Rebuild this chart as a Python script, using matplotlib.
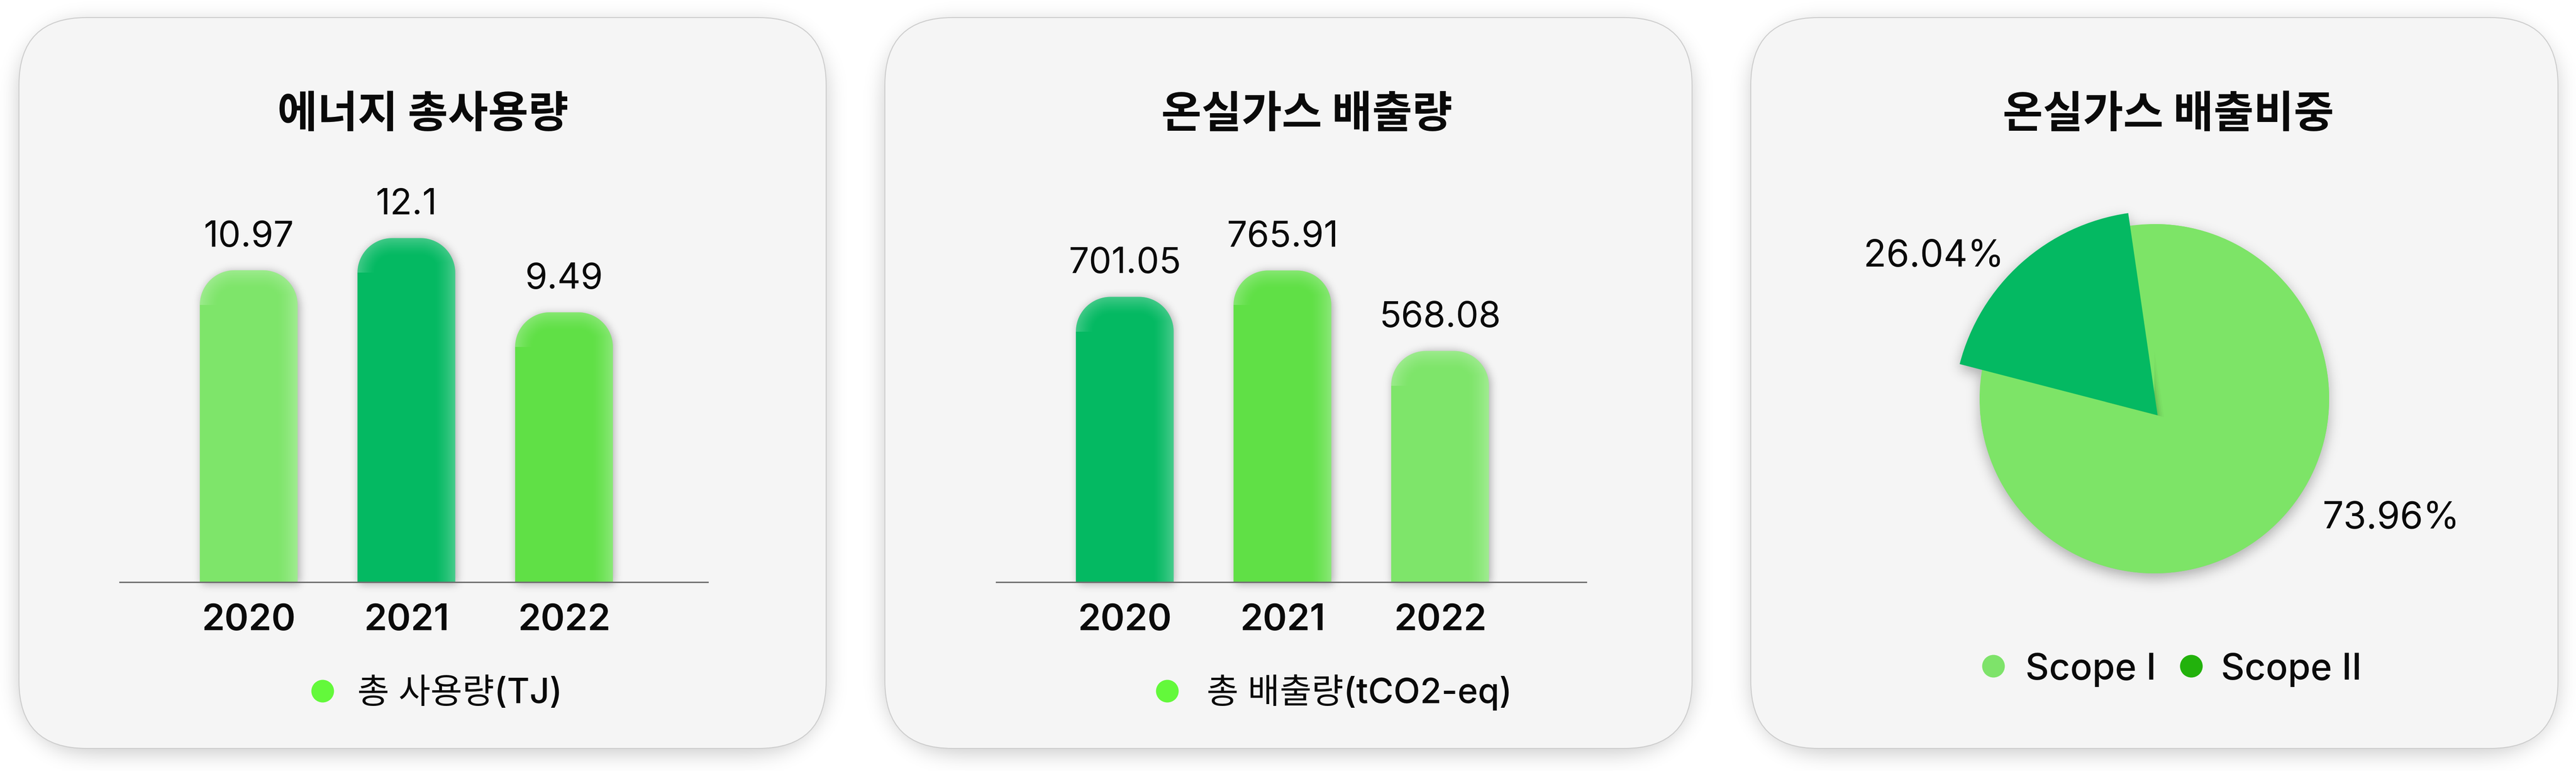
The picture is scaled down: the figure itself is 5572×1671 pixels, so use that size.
import numpy as np
import matplotlib
matplotlib.use('Agg')
import matplotlib.pyplot as plt
from matplotlib.patches import FancyBboxPatch, PathPatch, Circle
from matplotlib.path import Path
import matplotlib.transforms as mtrans

W, H, DPI = 5572, 1671, 100

# ---------------- data ----------------
energy_title = '에너지 총사용량'
energy_years = ['2020', '2021', '2022']
energy_values = [10.97, 12.1, 9.49]
energy_legend = '총 사용량(TJ)'

ghg_title = '온실가스 배출량'
ghg_years = ['2020', '2021', '2022']
ghg_values = [701.05, 765.91, 568.08]
ghg_legend = '총 배출량(tCO2-eq)'

share_title = '온실가스 배출비중'
scope_labels = ['Scope I', 'Scope II']
scope_values = [73.96, 26.04]

# ---------------- style ----------------
LIGHT, MID, DARK = '#7EE56A', '#60E046', '#04B962'
energy_colors = [LIGHT, DARK, MID]
ghg_colors = [DARK, MID, LIGHT]
pie_colors = ['#7DE467', '#04B962']
pie_legend_colors = ['#7EE36A', '#22B20C']
legend_dot = '#63F93B'
TXT = '#0A0A0A'

plt.rcParams['font.family'] = ['Inter', 'Noto Sans CJK KR', 'DejaVu Sans']

fig = plt.figure(figsize=(W / DPI, H / DPI), dpi=DPI)
fig.patch.set_facecolor('white')
bg = fig.add_axes([0, 0, 1, 1])
bg.set_autoscale_on(False)
bg.set_xlim(0, W)
bg.set_ylim(H, 0)
bg.axis('off')


def px_axes(x0, y0, x1, y1):
    return fig.add_axes([x0 / W, 1 - y1 / H, (x1 - x0) / W, (y1 - y0) / H])


def to_px(ax, pts):
    d = ax.transData.transform(pts)
    return np.column_stack([d[:, 0], H - d[:, 1]])


def rounded_rect_path(x0, y0, x1, y1, r, n=30):
    v = []
    for cx, cy, a0 in [(x1 - r, y1 - r, 0), (x0 + r, y1 - r, 90), (x0 + r, y0 + r, 180), (x1 - r, y0 + r, 270)]:
        t = np.radians(np.linspace(a0, a0 + 90, n))
        v += list(zip(cx + r * np.cos(t), cy + r * np.sin(t)))
    v.append(v[0])
    return Path(np.array(v), closed=True)


def rounded_top_path(x0, x1, ytop, ybase, r, n=30):
    r = min(r, (x1 - x0) / 2, ybase - ytop)
    v = [(x0, ybase), (x0, ytop + r)]
    t = np.linspace(np.pi, 1.5 * np.pi, n)
    v += list(zip(x0 + r + r * np.cos(t), ytop + r + r * np.sin(t)))
    t = np.linspace(1.5 * np.pi, 2 * np.pi, n)
    v += list(zip(x1 - r + r * np.cos(t), ytop + r + r * np.sin(t)))
    v += [(x1, ybase), (x0, ybase)]
    return Path(np.array(v), closed=True)


def gblur(img, sig):
    def K(n):
        i = np.arange(n)
        k = np.exp(-0.5 * ((i[:, None] - i[None, :]) / sig) ** 2)
        return k / (np.sqrt(2 * np.pi) * sig)
    return K(img.shape[0]) @ img @ K(img.shape[1])


S = 4
gx = (np.arange(W // S) + 0.5) * S
gy = (np.arange(H // S) + 0.5) * S
GX, GY = np.meshgrid(gx, gy)


def shadow_alpha(paths, dx, dy, sig, amax):
    pts = np.column_stack([GX.ravel() - dx, GY.ravel() - dy])
    m = np.zeros(GX.size)
    for p in paths:
        m = np.maximum(m, p.contains_points(pts).astype(float))
    m = m.reshape(GX.shape)
    return np.clip(gblur(m, sig / S), 0, 1) * amax


def show_shadow(alpha, z):
    arr = np.zeros(alpha.shape + (4,))
    arr[..., 3] = alpha
    bg.imshow(arr, extent=(0, (W // S) * S, (H // S) * S, 0), origin='upper',
              interpolation='bilinear', zorder=z, aspect='auto')


# ---------------- panels ----------------
PANELS = [(41, 38, 1787, 1620), (1914, 38, 3660, 1620), (3787, 38, 5533, 1620)]
PR = 146
panel_paths = [rounded_rect_path(*p, PR) for p in PANELS]
show_shadow(shadow_alpha(panel_paths, 0, 10, 22, 0.20), 1)
for (x0, y0, x1, y1) in PANELS:
    bg.add_patch(FancyBboxPatch((x0, y0), x1 - x0, y1 - y0,
                                boxstyle=f'round,pad=0,rounding_size={PR}',
                                facecolor='#F5F5F5', edgecolor='#CDCDCD', linewidth=1.5, zorder=2))

# ---------------- bar charts ----------------
BAR_R = 75
bar_shapes = []


def bar_panel(box, xlim, ymax, years, values, colors):
    ax = px_axes(*box)
    ax.set_autoscale_on(False)
    bars = ax.bar(range(len(values)), values, width=0.62, color=colors, alpha=0.0)
    ax.set_xlim(*xlim)
    ax.set_ylim(0, ymax)
    ax.patch.set_alpha(0)
    for s in ['top', 'left', 'right']:
        ax.spines[s].set_visible(False)
    ax.spines['bottom'].set_color('#6E6E6E')
    ax.spines['bottom'].set_linewidth(2.2)
    ax.set_xticks([])
    ax.set_yticks([])
    tr = mtrans.blended_transform_factory(ax.transData, bg.transData)
    for i, (rect, v, c, yr) in enumerate(zip(bars.patches, values, colors, years)):
        x0 = rect.get_x()
        p = to_px(ax, [(x0, 0), (x0 + rect.get_width(), rect.get_height())])
        bar_shapes.append((p[0, 0], p[1, 0], p[1, 1], p[0, 1], c))
        ax.annotate(f'{v}', xy=(i, v), xytext=(0, 37), textcoords='offset points',
                    ha='center', va='baseline', fontsize=56, fontweight='normal', color=TXT)
        ax.text(i, 1364, yr, transform=tr, ha='center', va='baseline',
                fontsize=57, fontweight='semibold', color=TXT)
    return ax


ax1 = bar_panel((259, 300, 1531, 1260), (-0.818, 2.912), 15.6, energy_years, energy_values, energy_colors)
ax2 = bar_panel((2155, 300, 3431, 1260), (-0.815, 2.927), 1090, ghg_years, ghg_values, ghg_colors)

bar_paths = [rounded_top_path(x0, x1, yt, yb, BAR_R) for (x0, x1, yt, yb, c) in bar_shapes]

# ---------------- pie ----------------
PC = (4660, 863)
PRAD = 378
half = 600
pax = px_axes(PC[0] - half, PC[1] - half, PC[0] + half, PC[1] + half)
wedges, _ = pax.pie(scope_values, colors=pie_colors, startangle=90, counterclock=False,
                    radius=1.0, wedgeprops=dict(linewidth=0))
lim = half / PRAD
pax.set_xlim(-lim, lim)
pax.set_ylim(-lim, lim)
pax.set_autoscale_on(False)
pax.add_patch(Circle((0, 0), 1.0, facecolor=pie_colors[0], linewidth=0, zorder=0.5))

# popped-out Scope II slice (perspective look of the reference)
POP_OFFSET = (0.0185, -0.095)
POP_SCALE = 1.17
POP_ROTATE = -5.0
POP_SQUEEZE = 0.717
w2 = wedges[1]
mid = 0.5 * (w2.theta1 + w2.theta2) + POP_ROTATE
hs = 0.5 * (w2.theta2 - w2.theta1) * POP_SQUEEZE
w2.set_theta1(mid - hs)
w2.set_theta2(mid + hs)
w2.set_center(POP_OFFSET)
w2.set_radius(POP_SCALE)
w2.set_zorder(3)
for k, a in [(3, 0.05), (6, 0.04), (10, 0.03), (14, 0.02)]:
    sh = matplotlib.patches.Wedge((POP_OFFSET[0] + k / PRAD, POP_OFFSET[1] - k / PRAD * 0.3),
                                  POP_SCALE, mid - hs, mid + hs, facecolor='black',
                                  alpha=a, linewidth=0, zorder=2)
    sh.set_clip_path(wedges[0])
    pax.add_patch(sh)

# pie labels
pct_pos = [(1.354, -0.743), (-1.262, 0.757)]
for v, (x, y) in zip(scope_values, pct_pos):
    pax.text(x, y, f'{v:.2f}%', ha='center', va='baseline', fontsize=58,
             fontweight='normal', color=TXT)

# pie shapes for shadow
cpx = to_px(pax, [(0, 0), (1, 0)])
cx, cy = cpx[0]
rr = cpx[1, 0] - cx
t = np.linspace(0, 2 * np.pi, 200)
circ = Path(np.column_stack([cx + rr * np.cos(t), cy - rr * np.sin(t)]), closed=False)
tip = to_px(pax, [POP_OFFSET])[0]
tt = np.radians(np.linspace(mid - hs, mid + hs, 60))
wv = [tuple(tip)] + list(zip(tip[0] + rr * POP_SCALE * np.cos(tt), tip[1] - rr * POP_SCALE * np.sin(tt))) + [tuple(tip)]
wpath = Path(np.array(wv), closed=False)

# ---------------- element shadows ----------------
a_bar = shadow_alpha(bar_paths, 3, 2, 9, 0.30)
a_pie = shadow_alpha([circ, wpath], 0, 10, 14, 0.30)
show_shadow(1 - (1 - a_bar) * (1 - a_pie), 3)

# ---------------- styled bars ----------------
for (x0, x1, yt, yb, c), path in zip(bar_shapes, bar_paths):
    patch = PathPatch(path, facecolor=c, edgecolor='none', zorder=4)
    bg.add_patch(patch)
    ix0, ix1, iyt, iyb = int(np.floor(x0)), int(np.ceil(x1)), int(np.floor(yt)), int(np.ceil(yb))
    xs = np.arange(ix0, ix1) + 0.5
    ys = np.arange(iyt, iyb) + 0.5
    X, Y = np.meshgrid(xs, ys)
    r = min(BAR_R, (x1 - x0) / 2)
    d_right = x1 - X
    ccx = np.clip(X, x0 + r, x1 - r)
    ccy = yt + r
    dist = np.hypot(X - ccx, Y - ccy)
    d_top = np.where(Y < ccy, r - dist, Y - yt)
    a = np.maximum(0.27 * np.clip(1 - d_right / 46, 0, 1) ** 1.4,
                   0.24 * np.clip(1 - d_top / 40, 0, 1) ** 1.4)
    arr = np.ones(X.shape + (4,))
    arr[..., 3] = a
    im = bg.imshow(arr, extent=(ix0, ix1, iyb, iyt), origin='upper',
                   interpolation='bilinear', zorder=5, aspect='auto')
    im.set_clip_path(patch)

# ---------------- titles & legends ----------------
for cxp, title in [(915, energy_title), (2827, ghg_title), (4690, share_title)]:
    bg.text(cxp, 276, title, ha='center', va='baseline', fontsize=68, fontweight='bold',
            family=['Noto Sans CJK KR', 'DejaVu Sans'], color=TXT, zorder=10)

for (mx, tx), lab in [((698, 773), energy_legend), ((2525, 2610), ghg_legend)]:
    bg.add_patch(Circle((mx, 1496), 24.5, facecolor=legend_dot, edgecolor='none', zorder=10))
    bg.text(tx, 1522, lab, ha='left', va='baseline', fontsize=54, fontweight='medium',
            color=TXT, zorder=10)

for (mx, tx), lab, col in zip([(4312, 4381), (4740, 4804)], scope_labels, pie_legend_colors):
    bg.add_patch(Circle((mx, 1442), 24.5, facecolor=col, edgecolor='none', zorder=10))
    bg.text(tx, 1471, lab, ha='left', va='baseline', fontsize=57, fontweight='medium',
            color=TXT, zorder=10)

fig.savefig('out.png', dpi=DPI, facecolor='white')
